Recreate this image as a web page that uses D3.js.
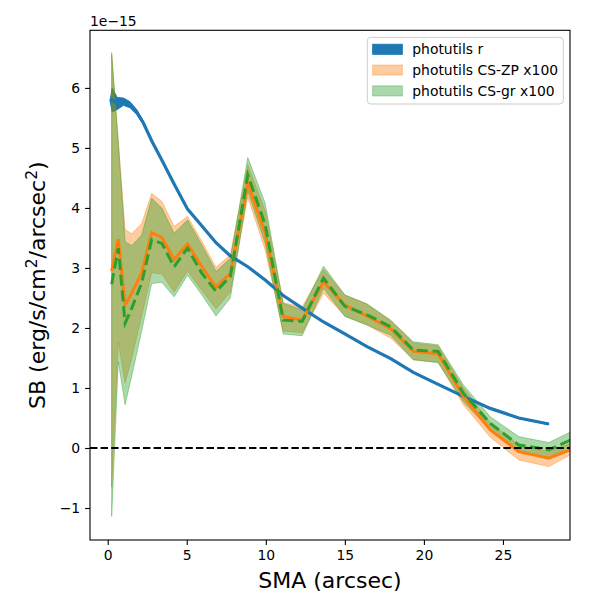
<!DOCTYPE html>
<html>
<head>
<meta charset="utf-8">
<script src="https://cdn.jsdelivr.net/npm/d3@7"></script>
<style>
  body { margin: 0; background: #fff; }
  text { font-family: "DejaVu Sans", sans-serif; }
</style>
</head>
<body>
<div id="chart"></div>
<script>
// SB profiles, values in units of 1e-15 erg/s/cm2/arcsec2
const smaBlue = [0.15, 0.28, 0.6, 1.0, 1.41, 1.83, 2.25, 2.78, 3.42, 4.2, 5.05, 5.96, 6.85, 7.76, 8.86, 9.96, 11.1, 12.3, 13.65, 15.0, 16.4, 17.9, 19.33, 20.9, 22.5, 24.2, 26.0, 27.9]
const sbBlue = [5.78, 5.8, 5.74, 5.77, 5.72, 5.6, 5.42, 5.12, 4.8, 4.4, 3.98, 3.70, 3.42, 3.2, 3.02, 2.80, 2.54, 2.33, 2.10, 1.90, 1.69, 1.49, 1.26, 1.06, 0.86, 0.66, 0.50, 0.40]
const errBlue = [0.0, 0.2, 0.1, 0.06, 0.05, 0.04, 0.03, 0.01, 0.01, 0.01, 0.01, 0.01, 0.01, 0.01, 0.01, 0.01, 0.01, 0.01, 0.01, 0.01, 0.01, 0.01, 0.01, 0.01, 0.01, 0.01, 0.01, 0.01]

const sma = [0.25, 0.67, 1.1, 1.52, 2.15, 2.78, 3.42, 4.2, 5.05, 5.96, 6.85, 7.76, 8.86, 9.96, 11.1, 12.3, 13.65, 15.0, 16.4, 17.9, 19.33, 20.9, 22.5, 24.2, 26.0, 27.9, 30.0]

const sbZP = [2.95, 3.48, 2.38, 2.58, 2.92, 3.59, 3.51, 3.14, 3.40, 3.02, 2.68, 2.91, 4.41, 3.58, 2.19, 2.13, 2.77, 2.38, 2.2, 1.99, 1.61, 1.57, 0.86, 0.30, -0.06, -0.17, 0.05]
const zpHi = [6.55, 5.1, 3.64, 3.57, 3.74, 4.24, 4.11, 3.69, 3.86, 3.44, 3.01, 3.22, 4.72, 3.95, 2.42, 2.35, 2.98, 2.55, 2.4, 2.12, 1.75, 1.70, 1.0, 0.42, 0.05, -0.06, 0.15]
const zpLo = [-0.65, 1.77, 1.08, 1.5, 2.2, 2.92, 2.90, 2.6, 2.95, 2.62, 2.32, 2.6, 4.18, 3.3, 1.95, 1.92, 2.58, 2.2, 2.05, 1.83, 1.47, 1.43, 0.72, 0.18, -0.2, -0.31, -0.01]

const sbGR = [2.73, 3.33, 2.08, 2.33, 2.75, 3.47, 3.41, 3.02, 3.33, 2.91, 2.61, 2.86, 4.55, 3.72, 2.13, 2.11, 2.83, 2.36, 2.22, 2.02, 1.63, 1.61, 0.91, 0.41, 0.05, -0.03, 0.22]
const grHi = [6.59, 5.1, 3.44, 3.37, 3.55, 4.16, 4.0, 3.58, 3.80, 3.38, 2.94, 3.16, 4.84, 4.08, 2.41, 2.3, 3.03, 2.55, 2.4, 2.13, 1.77, 1.72, 1.05, 0.52, 0.19, 0.09, 0.36]
const grLo = [-1.14, 1.44, 0.72, 1.2, 1.95, 2.74, 2.76, 2.52, 2.88, 2.55, 2.2, 2.5, 4.28, 3.41, 1.9, 1.87, 2.66, 2.19, 2.05, 1.88, 1.47, 1.42, 0.77, 0.30, -0.06, -0.16, 0.12]

const xTicks = [0, 5, 10, 15, 20, 25]
const yTicks = [-1, 0, 1, 2, 3, 4, 5, 6]
const legendLabels = ['photutils r', 'photutils CS-ZP x100', 'photutils CS-gr x100']

const W = 600, H = 600
const margin = { left: 90, right: 30, top: 30.3, bottom: 60 }
const blue = '#1f77b4', orange = '#ff7f0e', green = '#2ca02c'

const svg = d3.select('#chart').append('svg')
  .attr('width', W)
  .attr('height', H)

const x = d3.scaleLinear().domain([-1.12, 29.24]).range([margin.left, W - margin.right])
const y = d3.scaleLinear().domain([-1.533, 6.96]).range([H - margin.bottom, margin.top])

svg.append('clipPath').attr('id', 'clip')
  .append('rect')
  .attr('x', margin.left).attr('y', margin.top)
  .attr('width', W - margin.left - margin.right)
  .attr('height', H - margin.top - margin.bottom)

const plot = svg.append('g').attr('clip-path', 'url(#clip)')

const band = (xs, lo, hi) => d3.area()
  .x((d, i) => x(xs[i]))
  .y0((d, i) => y(lo[i]))
  .y1((d, i) => y(hi[i]))(xs)
const line = (xs, ys) => d3.line()
  .x((d, i) => x(xs[i]))
  .y((d, i) => y(ys[i]))(xs)

// blue band
plot.append('path')
  .attr('d', band(smaBlue, sbBlue.map((v, i) => v - errBlue[i]), sbBlue.map((v, i) => v + errBlue[i])))
  .attr('fill', blue)
  .attr('stroke', blue)
  .attr('stroke-width', 1)

// orange and green bands
plot.append('path')
  .attr('d', band(sma, zpLo, zpHi))
  .attr('fill', orange).attr('fill-opacity', 0.4)
  .attr('stroke', orange).attr('stroke-opacity', 0.4).attr('stroke-width', 1)
plot.append('path')
  .attr('d', band(sma, grLo, grHi))
  .attr('fill', green).attr('fill-opacity', 0.4)
  .attr('stroke', green).attr('stroke-opacity', 0.4).attr('stroke-width', 1)

// lines
plot.append('path')
  .attr('d', line(smaBlue, sbBlue))
  .attr('fill', 'none').attr('stroke', blue).attr('stroke-width', 3.2)
plot.append('path')
  .attr('d', line(sma, sbZP))
  .attr('fill', 'none').attr('stroke', orange).attr('stroke-width', 3)
plot.append('path')
  .attr('d', line(sma, sbGR))
  .attr('fill', 'none').attr('stroke', green).attr('stroke-width', 3)
  .attr('stroke-dasharray', '11,4.8')

// zero line
plot.append('line')
  .attr('x1', margin.left).attr('x2', W - margin.right)
  .attr('y1', y(0)).attr('y2', y(0))
  .attr('stroke', '#000').attr('stroke-width', 2)
  .attr('stroke-dasharray', '7.4,3.2')

// axes
const xAxis = svg.append('g')
  .attr('transform', `translate(0,${H - margin.bottom})`)
  .call(d3.axisBottom(x).tickValues(xTicks).tickSize(4.9).tickPadding(4.9).tickFormat(d3.format('d')))
const yAxis = svg.append('g')
  .attr('transform', `translate(${margin.left},0)`)
  .call(d3.axisLeft(y).tickValues(yTicks).tickSize(4.9).tickPadding(4.9).tickFormat(d => d < 0 ? '\u2212' + Math.abs(d) : d))

for (const ax of [xAxis, yAxis]) {
  ax.select('.domain').remove()
  ax.selectAll('.tick line').attr('stroke', '#000').attr('stroke-width', 1.1)
  ax.selectAll('.tick text').attr('fill', '#000').style('font-size', '13.9px')
}

// frame
svg.append('rect')
  .attr('x', margin.left).attr('y', margin.top)
  .attr('width', W - margin.left - margin.right)
  .attr('height', H - margin.top - margin.bottom)
  .attr('fill', 'none').attr('stroke', '#000').attr('stroke-width', 1.1)

// offset text
svg.append('text')
  .attr('x', margin.left).attr('y', 25.5)
  .style('font-size', '13.9px')
  .text('1e\u221215')

// axis labels
svg.append('text')
  .attr('x', (margin.left + W - margin.right) / 2).attr('y', 588)
  .attr('text-anchor', 'middle')
  .style('font-size', '22px')
  .text('SMA (arcsec)')

const yl = svg.append('text')
  .attr('transform', `translate(45,${(margin.top + H - margin.bottom) / 2}) rotate(-90)`)
  .attr('text-anchor', 'middle')
  .style('font-size', '22px')
yl.append('tspan').text('SB (erg/s/cm')
yl.append('tspan').attr('dy', -8).style('font-size', '15.5px').text('2')
yl.append('tspan').attr('dy', 8).text('/arcsec')
yl.append('tspan').attr('dy', -8).style('font-size', '15.5px').text('2')
yl.append('tspan').attr('dy', 8).text(')')

// legend
const legend = svg.append('g')
legend.append('rect')
  .attr('x', 367.3).attr('y', 37.3).attr('width', 196).attr('height', 66.7)
  .attr('rx', 3.5)
  .attr('fill', '#fff').attr('fill-opacity', 0.8)
  .attr('stroke', '#cccccc').attr('stroke-width', 1)

const legendColors = [
  { fill: blue, op: 1 },
  { fill: orange, op: 0.4 },
  { fill: green, op: 0.4 }
]
legendLabels.forEach((label, i) => {
  const cy = 49.3 + i * 20.8
  legend.append('rect')
    .attr('x', 372.7).attr('y', cy - 5).attr('width', 29.6).attr('height', 10)
    .attr('fill', legendColors[i].fill).attr('fill-opacity', legendColors[i].op)
    .attr('stroke', legendColors[i].fill).attr('stroke-opacity', legendColors[i].op)
  legend.append('text')
    .attr('x', 412.3).attr('y', cy + 5)
    .style('font-size', '13.9px')
    .text(label)
})
</script>
</body>
</html>
